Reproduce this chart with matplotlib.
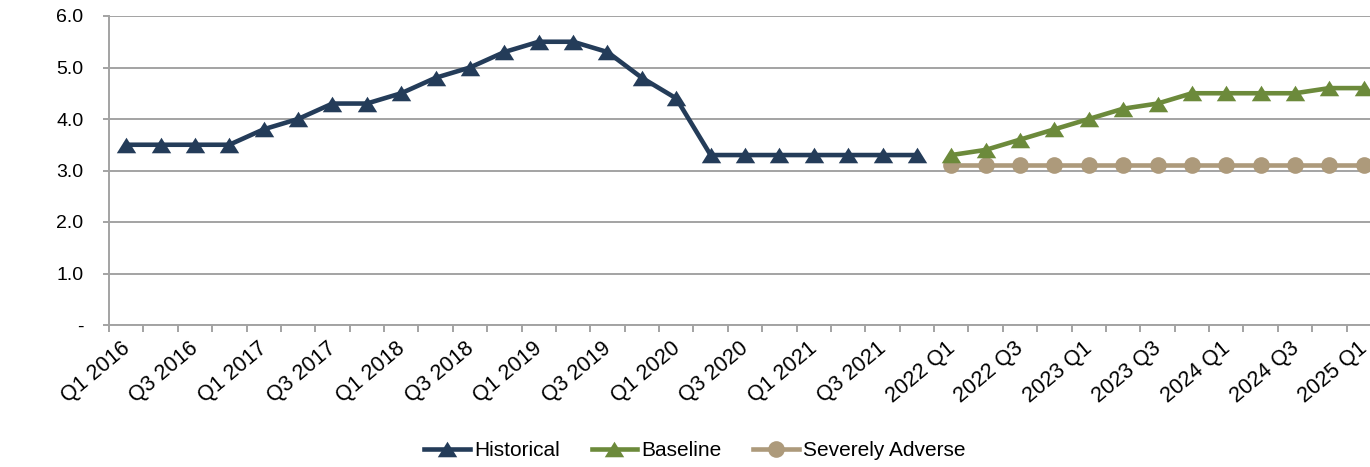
import matplotlib
matplotlib.use("Agg")
import matplotlib.pyplot as plt
import matplotlib.transforms as mtransforms
from matplotlib.path import Path

plt.rcParams['font.family'] = ['Liberation Sans', 'DejaVu Sans']

# Quarterly categories: 2016 Q1 .. 2021 Q4 (history) then 2022 Q1 .. 2025 Q1 (scenarios)
hist_quarters = [f"Q{q} {y}" for y in range(2016, 2022) for q in range(1, 5)]
proj_quarters = [f"{y} Q{q}" for y in range(2022, 2026) for q in range(1, 5)][:13]
categories = hist_quarters + proj_quarters

historical = [3.5, 3.5, 3.5, 3.5, 3.8, 4.0, 4.3, 4.3, 4.5, 4.8, 5.0, 5.3,
              5.5, 5.5, 5.3, 4.8, 4.4, 3.3, 3.3, 3.3, 3.3, 3.3, 3.3, 3.3]
baseline = [3.3, 3.4, 3.6, 3.8, 4.0, 4.2, 4.3, 4.5, 4.5, 4.5, 4.5, 4.6, 4.6]
severely_adverse = [3.1, 3.1, 3.1, 3.1, 3.1, 3.1, 3.1, 3.1, 3.1, 3.1, 3.1, 3.1, 3.1]

y_ticks = [0, 1, 2, 3, 4, 5, 6]
y_ticklabels = ["-", "1.0", "2.0", "3.0", "4.0", "5.0", "6.0"]

c_hist = "#243C59"
c_base = "#6C8A3B"
c_sev = "#AD9A7B"
c_grid = "#A3A3A3"

# a slightly flattened triangle marker
tri = Path([(0, 0.8), (-1, -0.8), (1, -0.8), (0, 0.8)],
           [Path.MOVETO, Path.LINETO, Path.LINETO, Path.CLOSEPOLY])

W, H = 1370, 467
fig = plt.figure(figsize=(W / 100, H / 100), dpi=100)
left, right, top, bottom = 109, 1381, 16, 325
ax = fig.add_axes([left / W, (H - bottom) / H, (right - left) / W, (bottom - top) / H])

x_hist = list(range(len(historical)))
x_proj = list(range(len(historical), len(historical) + len(baseline)))

ax.plot(x_hist, historical, color=c_hist, lw=3.3, marker=tri, ms=14,
        mew=0, solid_joinstyle='round', label="Historical", zorder=3)
ax.plot(x_proj, baseline, color=c_base, lw=3.3, marker=tri, ms=14,
        mew=0, solid_joinstyle='round', label="Baseline", zorder=3)
ax.plot(x_proj, severely_adverse, color=c_sev, lw=3.3, marker='o', ms=12,
        mew=0, label="Severely Adverse", zorder=2)

ax.set_xlim(-0.5, len(categories) - 0.5)
ax.set_ylim(0, 6)

ax.set_yticks(y_ticks)
ax.set_yticklabels(y_ticklabels, fontsize=14)
ax.yaxis.grid(True, color=c_grid, lw=1.4)
ax.set_axisbelow(True)

# tick marks sit between categories; labels on every other category
ax.set_xticks([i - 0.5 for i in range(len(categories) + 1)], minor=True)
ax.set_xticks(range(0, len(categories), 2))
ax.set_xticklabels(categories[::2], fontsize=15.5, rotation=40,
                   ha='right', va='center', rotation_mode='anchor')
ax.tick_params(axis='x', which='major', length=0, pad=0)
ax.tick_params(axis='x', which='minor', length=5, width=1.4, color=c_grid)
ax.tick_params(axis='y', length=4.5, width=1.4, color=c_grid, pad=14)
offset = mtransforms.ScaledTranslation(1 / 100, -21 / 100, fig.dpi_scale_trans)
for lbl in ax.get_xticklabels():
    lbl.set_transform(lbl.get_transform() + offset)

for s in ['top', 'right']:
    ax.spines[s].set_visible(False)
for s in ['left', 'bottom']:
    ax.spines[s].set_color(c_grid)
    ax.spines[s].set_linewidth(1.4)

ax.set_ylabel("Prime Rate (%)", fontsize=16, fontweight='bold')
ax.yaxis.label.set_transform(mtransforms.blended_transform_factory(fig.transFigure, ax.transAxes))
ax.yaxis.label.set_position((24 / W, 0.49))

fig.legend(loc='center', bbox_to_anchor=(695 / W, 1 - 451 / H), ncol=3,
           frameon=False, fontsize=15, handlelength=2.2, handletextpad=0.2,
           columnspacing=1.5)

fig.savefig("out.png", dpi=100)
